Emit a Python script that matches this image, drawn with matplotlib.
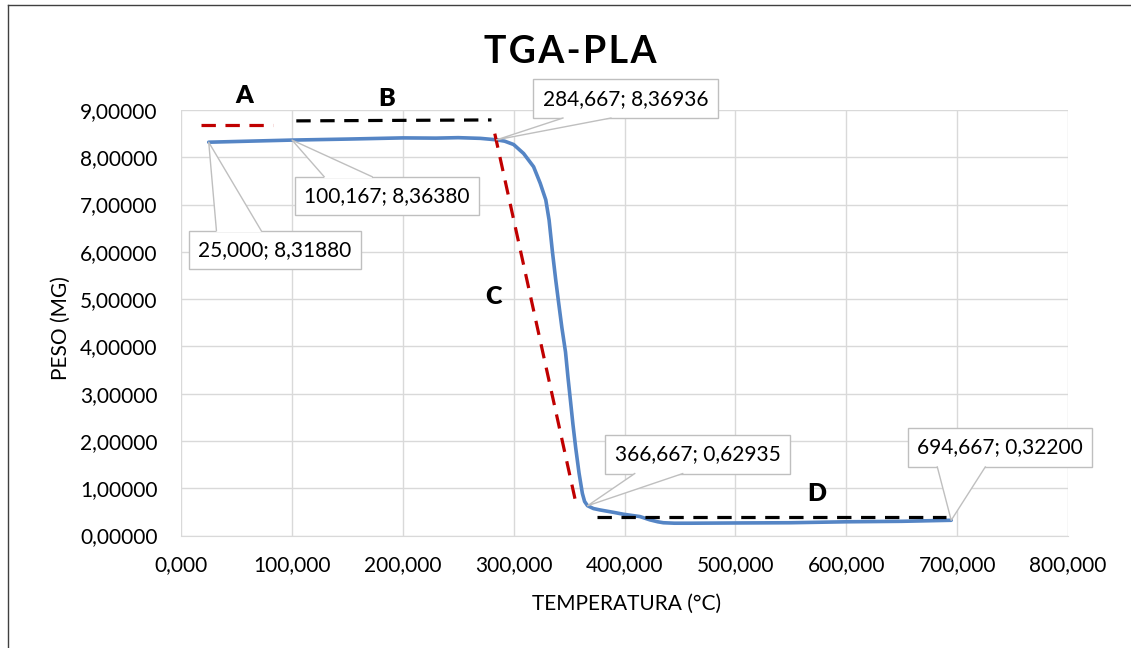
import matplotlib.pyplot as plt
from matplotlib.lines import Line2D
from matplotlib.patches import Polygon
from matplotlib.ticker import FuncFormatter

plt.rcParams['font.family'] = ['Lato', 'DejaVu Sans']

# datos TGA (temperatura en °C, peso en mg)
temperatura = [25.0, 60, 100.167, 150, 200, 230, 250, 270, 284.667, 292, 300,
               309, 318, 324, 329, 332, 335, 338, 340.5, 343.5, 346.8, 349,
               351.4, 353.5, 356, 359, 362, 364, 366.667, 372, 378, 390, 399,
               414, 423, 430, 435, 445, 460, 500, 550, 600, 650, 694.667]
peso = [8.31880, 8.34, 8.36380, 8.385, 8.41, 8.405, 8.415, 8.40, 8.36936, 8.34, 8.27,
        8.08, 7.80, 7.45, 7.10, 6.67, 6.00, 5.40, 4.94, 4.40, 3.88, 3.35,
        2.82, 2.35, 1.85, 1.32, 0.89, 0.72, 0.62935, 0.57, 0.54, 0.49, 0.45,
        0.40, 0.33, 0.29, 0.27, 0.26, 0.26, 0.265, 0.27, 0.29, 0.30, 0.32200]

# puntos etiquetados, posicion de la etiqueta y lado del que sale la flecha
puntos = [(25.000, 8.31880), (100.167, 8.36380), (284.667, 8.36936),
          (366.667, 0.62935), (694.667, 0.32200)]
pos_etiquetas = [(84.7, 6.04), (185.6, 7.18), (401.0, 9.24), (465.8, 1.72), (738.7, 1.86)]
lado_etiquetas = ['top', 'top', 'bottom', 'bottom', 'bottom']

# lineas de tendencia (A, B, C, D)
tramo_a = ([18, 83], [8.69, 8.69])
tramo_b = ([104, 280], [8.77, 8.79])
tramo_c = ([283, 357], [8.50, 0.60])
tramo_d = ([375, 690], [0.40, 0.40])
letras = [('A', 57, 9.30), ('B', 185.5, 9.24), ('C', 282, 5.04), ('D', 573, 0.88)]

fig = plt.figure(figsize=(11.31, 6.48), dpi=100)
ax = fig.add_axes([181 / 1131, 112.5 / 648, 887 / 1131, 425.5 / 648])

# marco exterior (solo borde izq y superior visibles)
fig.add_artist(Line2D([8 / 1131, 8 / 1131], [0, 1 - 5 / 648], color='#404040', lw=1))
fig.add_artist(Line2D([8 / 1131, 1], [1 - 5 / 648, 1 - 5 / 648], color='#404040', lw=1))

ax.plot(temperatura, peso, color='#5585c5', lw=2.6, solid_capstyle='round',
        solid_joinstyle='round', zorder=3)

ax.plot(*tramo_a, color='#c00000', lw=2.3, dashes=(4.5, 3), zorder=4)
ax.plot(*tramo_b, color='black', lw=2.3, dashes=(4.5, 3), zorder=4)
ax.plot(*tramo_c, color='#c00000', lw=2.3, dashes=(4.5, 3), zorder=4)
ax.plot(*tramo_d, color='black', lw=2.3, dashes=(4.5, 3), zorder=4)

for letra, x, y in letras:
    ax.text(x, y, letra, fontsize=18, fontweight='heavy', ha='center', va='center')

ax.set_xlim(0, 800)
ax.set_ylim(0, 9)
ax.set_xticks(range(0, 801, 100))
ax.set_yticks(range(0, 10))
ax.xaxis.set_major_formatter(FuncFormatter(lambda v, p: f"{v:.3f}".replace('.', ',')))
ax.yaxis.set_major_formatter(FuncFormatter(lambda v, p: f"{v:.5f}".replace('.', ',')))
ax.tick_params(length=0, labelsize=15, colors='#000000')
ax.tick_params(axis='x', pad=14)
ax.tick_params(axis='y', pad=17)
ax.grid(True, color='#d9d9d9', lw=1)
ax.set_axisbelow(True)
for s in ['left', 'right', 'top']:
    ax.spines[s].set_visible(False)
ax.spines['bottom'].set_color('#d9d9d9')

ax.set_xlabel('TEMPERATURA (°C)', fontsize=15)
ax.xaxis.set_label_coords(0.502, -0.161)
ax.xaxis.label.set_va('center')
ax.set_ylabel('PESO (MG)', fontsize=15)
ax.yaxis.set_label_coords(-0.136, 0.488)
ax.yaxis.label.set_va('center')

fig.text(570 / 1131, 1 - 52 / 648, '\u200a'.join('TGA-PLA'), fontsize=27,
         fontweight='bold', ha='center', va='center')

# etiquetas tipo "globo" de Excel
cajas = []
for (px, py), (tx, ty) in zip(puntos, pos_etiquetas):
    etiqueta = f"{px:.3f}; {py:.5f}".replace('.', ',')
    t = ax.text(tx, ty, etiqueta, fontsize=15, ha='center', va='center', zorder=6,
                bbox=dict(boxstyle='square,pad=0.45', fc='white', ec='#bfbfbf', lw=1))
    cajas.append(t)

fig.canvas.draw()
renderer = fig.canvas.get_renderer()
inv = ax.transData.inverted()
for t, (px, py), lado in zip(cajas, puntos, lado_etiquetas):
    bb = t.get_bbox_patch().get_window_extent(renderer)
    if lado == 'top':
        ye, yi = bb.y1, bb.y1 - 1.5
    else:
        ye, yi = bb.y0, bb.y0 + 1.5
    xa = bb.x0 + 0.16 * bb.width
    xb = bb.x0 + 0.42 * bb.width
    punta = ax.transData.transform((px, py))
    relleno = inv.transform([(xa, yi), (xa, ye), tuple(punta), (xb, ye), (xb, yi)])
    ax.add_patch(Polygon(relleno, closed=True, fc='white', ec='none', zorder=7))
    borde = inv.transform([(xa, ye), tuple(punta), (xb, ye)])
    ax.add_line(Line2D(borde[:, 0], borde[:, 1], color='#bfbfbf', lw=1, zorder=7))

fig.savefig('out.png', dpi=100)
